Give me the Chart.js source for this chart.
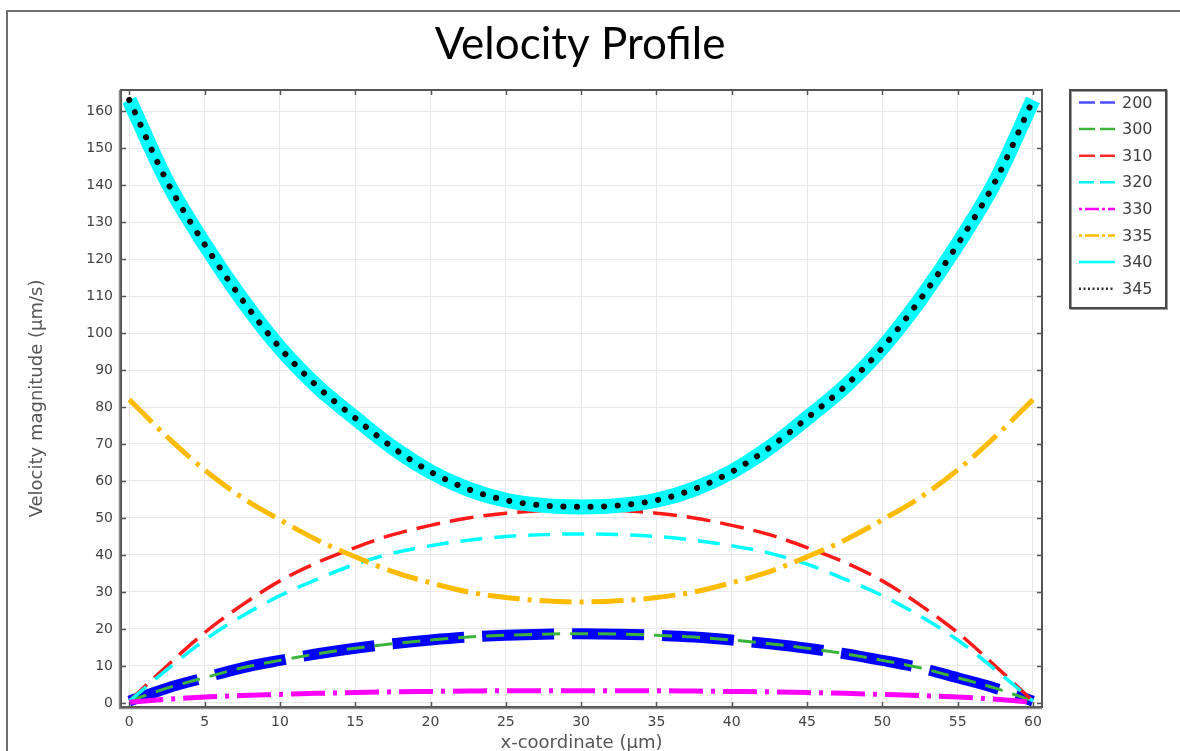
<!DOCTYPE html>
<html>
<head>
<meta charset="utf-8">
<script src="https://cdn.jsdelivr.net/npm/chart.js@4.4.0/dist/chart.umd.min.js"></script>
<style>
  html, body { margin: 0; padding: 0; background: #fff; overflow: hidden; }
  #wrap { position: relative; width: 1180px; height: 751px; }
</style>
</head>
<body>
<div id="wrap"><canvas id="chart" width="1180" height="751"></canvas></div>
<script>
// x positions across the channel (µm)
const xCoords = [0, 2.5, 5, 7.5, 10, 12.5, 15, 17.5, 20, 22.5, 25, 27.5, 30,
                 32.5, 35, 37.5, 40, 42.5, 45, 47.5, 50, 52.5, 55, 57.5, 60];

// velocity magnitude (µm/s) for each run
const vel200 = [0.5, 4, 6.8, 9.5, 11.5, 13.3, 14.8, 16, 17, 17.8, 18.3, 18.6, 18.7,
                18.6, 18.3, 17.8, 17, 16, 14.8, 13.3, 11.5, 9.5, 6.8, 4, 0.5];
const vel300 = [0.5, 4, 6.8, 9.5, 11.5, 13.3, 14.8, 16, 17, 17.8, 18.3, 18.6, 18.7,
                18.6, 18.3, 17.8, 17, 16, 14.8, 13.3, 11.5, 9.5, 6.8, 4, 0.5];
const vel310 = [0.5, 10, 19, 26.5, 33, 38, 42, 45.5, 48, 50, 51.3, 52, 52.3,
                52, 51.3, 50, 48, 45.5, 42, 38, 33, 26.5, 19, 10, 0.5];
const vel320 = [0.5, 9, 17, 23.5, 29, 33.5, 37.5, 40.5, 42.5, 44, 45, 45.5, 45.7,
                45.5, 45, 44, 42.5, 40.5, 37.5, 33.5, 29, 23.5, 17, 9, 0.5];
const vel330 = [0.2, 1.0, 1.6, 2.0, 2.3, 2.6, 2.8, 3.0, 3.1, 3.2, 3.3, 3.3, 3.3,
                3.3, 3.3, 3.2, 3.1, 3.0, 2.8, 2.6, 2.3, 2.0, 1.6, 1.0, 0.2];
const vel335 = [82, 72, 63, 55.5, 49.5, 44, 39.5, 35.5, 32.5, 30, 28.5, 27.6, 27.3,
                27.6, 28.5, 30, 32.5, 35.5, 39.5, 44, 49.5, 55.5, 63, 72, 82];
const vel340 = [163, 141, 124, 109, 96, 85.5, 77, 69, 62.5, 57.8, 54.8, 53.4, 53,
                53.4, 54.8, 57.8, 62.5, 69, 77, 85.5, 96, 109, 124, 141, 163];
const vel345 = [163, 141, 124, 109, 96, 85.5, 77, 69, 62.5, 57.8, 54.8, 53.4, 53,
                53.4, 54.8, 57.8, 62.5, 69, 77, 85.5, 96, 109, 124, 141, 163];

const seriesNames = ['200', '300', '310', '320', '330', '335', '340', '345'];
const seriesValues = [vel200, vel300, vel310, vel320, vel330, vel335, vel340, vel345];

const xTicks = [0, 5, 10, 15, 20, 25, 30, 35, 40, 45, 50, 55, 60];
const yTicks = [0, 10, 20, 30, 40, 50, 60, 70, 80, 90, 100, 110, 120, 130, 140, 150, 160];

// line styles: plot stroke and the short legend sample
const styles = [
  { color: '#0000ff', width: 11, dash: [72, 18],          legendDash: [16, 5],        legendColor: '#4b4bff' },
  { color: '#3cb43c', width: 3,  dash: [18, 10],          legendDash: [16, 5],        legendColor: '#3cb43c' },
  { color: '#ff1a1a', width: 3.5, dash: [24, 10],         legendDash: [16, 5],        legendColor: '#ff2a2a' },
  { color: '#00ffff', width: 3.5, dash: [22, 12],         legendDash: [15, 6],        legendColor: '#00f0f0' },
  { color: '#ff00ff', width: 5,  dash: [34, 8, 4, 8],     legendDash: [3, 3, 14, 3],  legendColor: '#ff00ff' },
  { color: '#ffbb00', width: 5,  dash: [32, 8, 4, 8],     legendDash: [3, 3, 14, 3],  legendColor: '#ffbb00' },
  { color: '#00ffff', width: 15, dash: [],                legendDash: [],             legendColor: '#00ffff' },
  { color: '#000000', width: 6,  dash: [0.1, 13.5],       legendDash: [2, 2.5],       legendColor: '#333333', cap: 'round' }
];

const datasets = seriesValues.map((vals, i) => ({
  label: seriesNames[i],
  data: xCoords.map((x, k) => ({ x: x, y: vals[k] })),
  borderColor: styles[i].color,
  backgroundColor: styles[i].color,
  borderWidth: styles[i].width,
  borderDash: styles[i].dash,
  borderCapStyle: styles[i].cap || 'butt',
  borderJoinStyle: 'round',
  cubicInterpolationMode: 'monotone',
  pointRadius: 0,
  fill: false,
  order: seriesNames.length - i
}));

// frame, title, plot border, inward tick marks and boxed legend
const decor = {
  id: 'decor',
  afterDraw(chart) {
    const ctx = chart.ctx;
    const area = chart.chartArea;
    const xs = chart.scales.x, ys = chart.scales.y;
    ctx.save();

    // outer frame (top and left edges)
    ctx.strokeStyle = '#6e6e6e';
    ctx.lineWidth = 2;
    ctx.beginPath();
    ctx.moveTo(1180, 11);
    ctx.lineTo(7, 11);
    ctx.lineTo(7, 751);
    ctx.stroke();

    // title
    ctx.fillStyle = '#000';
    ctx.font = '44px Lato, "Open Sans", sans-serif';
    ctx.textAlign = 'center';
    ctx.textBaseline = 'alphabetic';
    ctx.fillText('Velocity Profile', 580, 59);

    // plot border
    ctx.strokeStyle = '#555';
    ctx.lineWidth = 2;
    ctx.strokeRect(area.left, area.top, area.right - area.left, area.bottom - area.top);
    ctx.strokeStyle = '#8a8a8a';
    ctx.lineWidth = 1.5;
    ctx.beginPath();
    ctx.moveTo(area.left - 1.5, area.top);
    ctx.lineTo(area.left - 1.5, area.bottom + 1.5);
    ctx.lineTo(area.right, area.bottom + 1.5);
    ctx.stroke();

    // inward tick marks on all four sides
    ctx.strokeStyle = '#555';
    ctx.lineWidth = 1.5;
    ctx.beginPath();
    xTicks.forEach(v => {
      const px = Math.round(xs.getPixelForValue(v)) + 0.5;
      ctx.moveTo(px, area.bottom); ctx.lineTo(px, area.bottom - 5);
      ctx.moveTo(px, area.top); ctx.lineTo(px, area.top + 5);
    });
    yTicks.forEach(v => {
      const py = Math.round(ys.getPixelForValue(v)) + 0.5;
      ctx.moveTo(area.left, py); ctx.lineTo(area.left + 5, py);
      ctx.moveTo(area.right, py); ctx.lineTo(area.right - 5, py);
    });
    ctx.stroke();

    // legend box
    const lx = 1070, ly = 90, lw = 96, lh = 218;
    ctx.strokeStyle = '#999';
    ctx.lineWidth = 2;
    ctx.strokeRect(lx + 1, ly + 1, lw, lh);
    ctx.strokeStyle = '#4a4a4a';
    ctx.strokeRect(lx, ly, lw, lh);

    ctx.font = '16px "DejaVu Sans", sans-serif';
    ctx.textAlign = 'left';
    ctx.textBaseline = 'middle';
    seriesNames.forEach((name, i) => {
      const cy = 102.5 + i * 26.6;
      const st = styles[i];
      ctx.strokeStyle = st.legendColor;
      ctx.lineWidth = 2.5;
      ctx.lineCap = 'butt';
      ctx.setLineDash(st.legendDash);
      ctx.beginPath();
      ctx.moveTo(1079, cy);
      ctx.lineTo(1115, cy);
      ctx.stroke();
      ctx.setLineDash([]);
      ctx.fillStyle = '#3f3f3f';
      ctx.fillText(name, 1122, cy + 1);
    });

    ctx.restore();
  }
};

new Chart(document.getElementById('chart'), {
  type: 'line',
  data: { datasets: datasets },
  options: {
    responsive: false,
    animation: false,
    devicePixelRatio: 1,
    layout: { padding: { top: 90, right: 138, bottom: 0, left: 0 } },
    plugins: {
      legend: { display: false },
      title: { display: false },
      tooltip: { enabled: false }
    },
    scales: {
      x: {
        type: 'linear',
        min: -0.55,
        max: 60.6,
        afterFit(scale) { scale.height = 44; },
        afterBuildTicks(scale) { scale.ticks = xTicks.map(v => ({ value: v })); },
        grid: { color: '#e8e8e8', lineWidth: 1, drawTicks: false },
        border: { display: false },
        ticks: {
          padding: 7,
          color: '#444',
          font: { family: '"DejaVu Sans", sans-serif', size: 14 },
          maxRotation: 0
        },
        title: {
          display: true,
          text: 'x-coordinate (µm)',
          color: '#555',
          font: { family: '"DejaVu Sans", sans-serif', size: 18, lineHeight: 0.8 },
          padding: { top: 0, bottom: 0 }
        }
      },
      y: {
        type: 'linear',
        min: -1.1,
        max: 165.7,
        afterFit(scale) { scale.width = 121; },
        afterBuildTicks(scale) { scale.ticks = yTicks.map(v => ({ value: v })); },
        grid: { color: '#e8e8e8', lineWidth: 1, drawTicks: false },
        border: { display: false },
        ticks: {
          padding: 8,
          color: '#444',
          font: { family: '"DejaVu Sans", sans-serif', size: 14 }
        },
        title: {
          display: true,
          text: 'Velocity magnitude (µm/s)',
          color: '#555',
          font: { family: '"DejaVu Sans", sans-serif', size: 18, lineHeight: 1.2 },
          padding: { top: 27, bottom: 0 }
        }
      }
    }
  },
  plugins: [decor]
});
</script>
</body>
</html>
